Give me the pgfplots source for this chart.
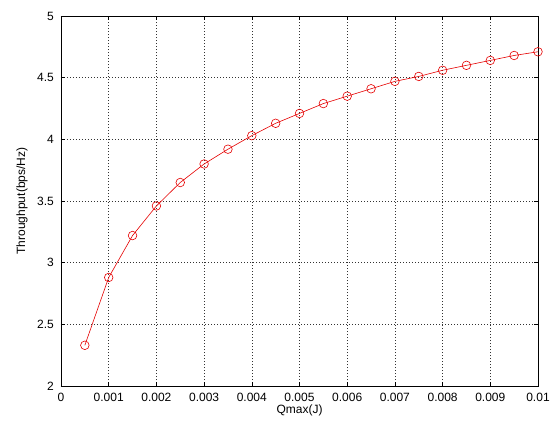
\documentclass[border=0pt]{standalone}
\usepackage{fontspec}
\setmainfont{Liberation Sans}
\usepackage{pgfplots}
\pgfplotsset{compat=1.18}
\begin{document}
\begin{tikzpicture}[x=1pt,y=1pt]
\begin{axis}[
  scale only axis,
  width=477pt, height=370pt,
  xmin=0, xmax=0.01, ymin=2, ymax=5,
  xtick={0,0.001,0.002,0.003,0.004,0.005,0.006,0.007,0.008,0.009,0.01},
  xticklabels={0,0.001,0.002,0.003,0.004,0.005,0.006,0.007,0.008,0.009,0.01},
  ytick={2,2.5,3,3.5,4,4.5,5},
  yticklabels={2,2.5,3,3.5,4,4.5,5},
  scaled x ticks=false,
  tick align=inside,
  major tick length=4pt,
  grid=major,
  major grid style={black!80, line width=0.5pt, dash pattern=on 0.8pt off 2.2pt},
  axis line style={black, line width=0.6pt},
  tick style={black, line width=0.5pt},
  ticklabel style={font=\fontsize{12}{14}\selectfont, inner sep=1pt},
  label style={font=\fontsize{12}{14}\selectfont, inner sep=1pt},
  xticklabel style={anchor=base, yshift=-15pt},
  yticklabel style={xshift=-6pt},
  xlabel={Qmax(J)},
  ylabel={Throughput(bps/Hz)},
  xlabel style={at={(axis description cs:0.5,-0.0730)}, anchor=base},
  ylabel style={at={(axis description cs:-0.0818,0.5)}, anchor=center},
  clip=false,
]
\addplot[red!90!black, line width=0.6pt, mark=o, mark size=4.3pt, mark options={solid, line width=0.6pt}] coordinates {
(0.0005,2.33) (0.001,2.88) (0.0015,3.22) (0.002,3.46) (0.0025,3.65)
(0.003,3.80) (0.0035,3.92) (0.004,4.03) (0.0045,4.13) (0.005,4.21)
(0.0055,4.29) (0.006,4.35) (0.0065,4.41) (0.007,4.47) (0.0075,4.51)
(0.008,4.56) (0.0085,4.60) (0.009,4.64) (0.0095,4.68) (0.01,4.71)
};
\path (rel axis cs:0,0) ++(-61pt,-40pt) coordinate (bbsw);
\path (rel axis cs:1,1) ++(21pt,16pt) coordinate (bbne);
\end{axis}
\useasboundingbox (bbsw) rectangle (bbne);
\end{tikzpicture}
\end{document}
